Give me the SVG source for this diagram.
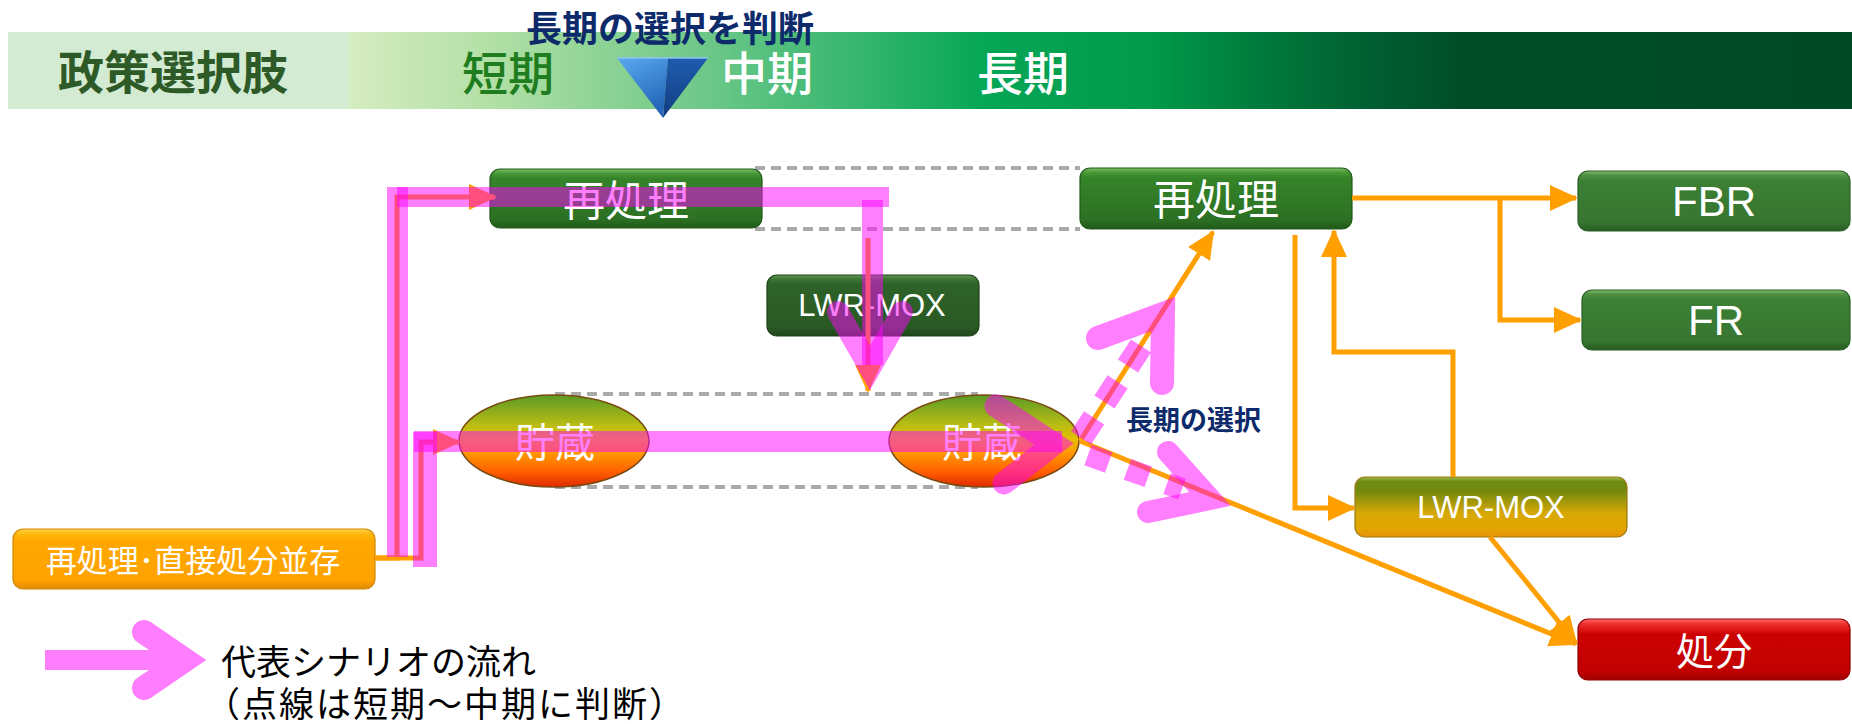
<svg xmlns="http://www.w3.org/2000/svg" width="1852" height="724" viewBox="0 0 1852 724">
<defs>
  <linearGradient id="gBanner" gradientUnits="userSpaceOnUse" x1="8" y1="0" x2="1852" y2="0">
    <stop offset="0" stop-color="#d3ebd3"/>
    <stop offset="0.184" stop-color="#d3ebd3"/>
    <stop offset="0.186" stop-color="#d5ecc0"/>
    <stop offset="0.262" stop-color="#b2e0a6"/>
    <stop offset="0.338" stop-color="#84d092"/>
    <stop offset="0.376" stop-color="#6ec889"/>
    <stop offset="0.452" stop-color="#3cb872"/>
    <stop offset="0.528" stop-color="#07a757"/>
    <stop offset="0.62" stop-color="#009a4a"/>
    <stop offset="0.68" stop-color="#007a3c"/>
    <stop offset="0.74" stop-color="#005e31"/>
    <stop offset="0.79" stop-color="#004d27"/>
    <stop offset="1" stop-color="#004b26"/>
  </linearGradient>
  <linearGradient id="gGreen" x1="0" y1="0" x2="0" y2="1">
    <stop offset="0" stop-color="#7cc067"/>
    <stop offset="0.07" stop-color="#4a9a3a"/>
    <stop offset="0.16" stop-color="#358429"/>
    <stop offset="0.85" stop-color="#2c7023"/>
    <stop offset="1" stop-color="#1f5a18"/>
  </linearGradient>
  <linearGradient id="gGreen2" x1="0" y1="0" x2="0" y2="1">
    <stop offset="0" stop-color="#82bd72"/>
    <stop offset="0.07" stop-color="#4f9044"/>
    <stop offset="0.16" stop-color="#3c8034"/>
    <stop offset="0.85" stop-color="#377631"/>
    <stop offset="1" stop-color="#265c22"/>
  </linearGradient>
  <linearGradient id="gDark" x1="0" y1="0" x2="0" y2="1">
    <stop offset="0" stop-color="#5f9a52"/>
    <stop offset="0.07" stop-color="#3d7534"/>
    <stop offset="0.16" stop-color="#2e6228"/>
    <stop offset="0.85" stop-color="#2a5a24"/>
    <stop offset="1" stop-color="#1e461a"/>
  </linearGradient>
  <linearGradient id="gOlive" x1="0" y1="0" x2="0" y2="1">
    <stop offset="0" stop-color="#9abb4a"/>
    <stop offset="0.08" stop-color="#6e8912"/>
    <stop offset="0.25" stop-color="#758a0c"/>
    <stop offset="0.6" stop-color="#d6a806"/>
    <stop offset="0.85" stop-color="#e2a600"/>
    <stop offset="1" stop-color="#e8920a"/>
  </linearGradient>
  <linearGradient id="gRed" x1="0" y1="0" x2="0" y2="1">
    <stop offset="0" stop-color="#ff6a6a"/>
    <stop offset="0.08" stop-color="#f03030"/>
    <stop offset="0.25" stop-color="#cc0202"/>
    <stop offset="0.85" stop-color="#c20000"/>
    <stop offset="1" stop-color="#a00000"/>
  </linearGradient>
  <linearGradient id="gOrange" x1="0" y1="0" x2="0" y2="1">
    <stop offset="0" stop-color="#ffd34a"/>
    <stop offset="0.09" stop-color="#ffb60a"/>
    <stop offset="0.2" stop-color="#ffa800"/>
    <stop offset="0.85" stop-color="#ffa200"/>
    <stop offset="1" stop-color="#e08a00"/>
  </linearGradient>
  <linearGradient id="gEll" x1="0" y1="0" x2="0" y2="1">
    <stop offset="0" stop-color="#5a9a26"/>
    <stop offset="0.32" stop-color="#b8bc14"/>
    <stop offset="0.48" stop-color="#e4c000"/>
    <stop offset="0.62" stop-color="#ff9c00"/>
    <stop offset="0.85" stop-color="#ff5a00"/>
    <stop offset="1" stop-color="#e02a00"/>
  </linearGradient>
  <linearGradient id="gTriL" x1="0" y1="0" x2="0.4" y2="1">
    <stop offset="0" stop-color="#5aaaf0"/>
    <stop offset="1" stop-color="#2466b8"/>
  </linearGradient>
  <linearGradient id="gTriR" x1="0" y1="0" x2="0" y2="1">
    <stop offset="0" stop-color="#1e5cae"/>
    <stop offset="1" stop-color="#123c80"/>
  </linearGradient>
  <marker id="ah" markerUnits="userSpaceOnUse" viewBox="0 0 30 28" markerWidth="30" markerHeight="28" refX="26" refY="13" orient="auto">
    <path d="M0,0 L28,13 L0,26 z" fill="#ff9f00"/>
  </marker>
</defs>
<style>
  .jp{font-family:"Noto Sans CJK JP","Noto Sans",sans-serif}
  .lat{font-family:"Liberation Sans",Arial,sans-serif}
  .w{fill:#ffffff}
  .b{font-weight:bold}
  .m{font-weight:500}
  .dash{fill:none;stroke:#aaaaaa;stroke-width:4;stroke-dasharray:10 6}
  .or{fill:none;stroke:#ff9f00;stroke-width:5;marker-end:url(#ah)}
  .pk{fill:#ff00ff;fill-opacity:0.5}
  .pks{fill:none;stroke:#ff00ff;stroke-opacity:0.5;stroke-linecap:round;stroke-linejoin:miter}
  .pkd{fill:none;stroke:#ff00ff;stroke-opacity:0.5;stroke-linecap:butt}
  .box{stroke-width:1.2}
</style>

<g id="banner">
  <rect x="8" y="32" width="1844" height="77" fill="url(#gBanner)"/>
  <text class="jp b" x="58" y="89" font-size="46" fill="#2d5a27">政策選択肢</text>
  <text class="jp m" x="462" y="90" font-size="46" fill="#1e7d1e">短期</text>
  <text class="jp m" x="721" y="90" font-size="46" fill="#ffffff">中期</text>
  <text class="jp m" x="977" y="90" font-size="46" fill="#ffffff">長期</text>
  <polygon points="617,58 668,58 663,118" fill="url(#gTriL)"/>
  <polygon points="668,58 708,58 663,118" fill="url(#gTriR)"/>
  <line x1="617" y1="58" x2="708" y2="58" stroke="#8cc4f4" stroke-width="1.5"/>
  <text class="jp b" x="670" y="42" font-size="36" fill="#0d2a6b" text-anchor="middle">長期の選択を判断</text>
</g>

<g id="guides">
  <line class="dash" x1="755" y1="168" x2="1080" y2="168"/>
  <line class="dash" x1="755" y1="229" x2="1080" y2="229"/>
  <line class="dash" x1="555" y1="394" x2="978" y2="394"/>
  <line class="dash" x1="555" y1="487" x2="978" y2="487"/>
</g>

<g id="node-reprocess-1">
  <rect class="box" x="490" y="169" width="272" height="59" rx="10" fill="url(#gGreen)" stroke="#22581a"/>
  <text class="jp w" x="626" y="216" font-size="42" text-anchor="middle">再処理</text>
</g>
<g id="node-lwrmox-1">
  <rect class="box" x="767" y="275" width="212" height="61" rx="10" fill="url(#gDark)" stroke="#1c4218"/>
  <text class="lat w" x="872" y="316" font-size="31" text-anchor="middle">LWR-MOX</text>
</g>
<g id="node-storage-1">
  <ellipse cx="554" cy="441" rx="95" ry="46" fill="url(#gEll)" stroke="#7a4a10" stroke-width="1.5"/>
  <text class="jp w" x="555" y="457" font-size="40" text-anchor="middle">貯蔵</text>
</g>
<g id="node-storage-2">
  <ellipse cx="984" cy="441" rx="95" ry="46" fill="url(#gEll)" stroke="#7a4a10" stroke-width="1.5"/>
  <text class="jp w" x="982" y="457" font-size="40" text-anchor="middle">貯蔵</text>
</g>
<g id="node-reprocess-2">
  <rect class="box" x="1080" y="168" width="272" height="61" rx="10" fill="url(#gGreen)" stroke="#22581a"/>
  <text class="jp w" x="1216" y="215" font-size="42" text-anchor="middle">再処理</text>
</g>
<g id="node-fbr">
  <rect class="box" x="1578" y="171" width="272" height="60" rx="10" fill="url(#gGreen2)" stroke="#2a5e24"/>
  <text class="lat w" x="1714" y="216" font-size="42" text-anchor="middle">FBR</text>
</g>
<g id="node-fr">
  <rect class="box" x="1582" y="290" width="268" height="60" rx="10" fill="url(#gGreen2)" stroke="#2a5e24"/>
  <text class="lat w" x="1716" y="335" font-size="42" text-anchor="middle">FR</text>
</g>
<g id="node-lwrmox-2">
  <rect class="box" x="1355" y="477" width="272" height="60" rx="10" fill="url(#gOlive)" stroke="#9a7a10"/>
  <text class="lat w" x="1491" y="518" font-size="31" text-anchor="middle">LWR-MOX</text>
</g>
<g id="node-disposal">
  <rect class="box" x="1578" y="619" width="272" height="61" rx="10" fill="url(#gRed)" stroke="#900000"/>
  <text class="jp w" x="1714" y="665" font-size="38" text-anchor="middle">処分</text>
</g>
<g id="node-coexist">
  <rect class="box" x="13" y="529" width="362" height="60" rx="10" fill="url(#gOrange)" stroke="#d08800"/>
  <text class="jp w" x="193" y="572" font-size="31" text-anchor="middle">再処理･直接処分並存</text>
</g>

<g id="connectors">
  <path class="or" d="M375,558 H397 V197 H495"/>
  <path class="or" d="M375,558 H421 V442 H459"/>
  <path class="or" d="M868,238 V391"/>
  <path class="or" d="M1080,441 L1213,232"/>
  <path class="or" d="M1080,441 L1576,644"/>
  <path class="or" d="M1490,537 L1576,643"/>
  <path class="or" d="M1352,198 H1576"/>
  <path class="or" d="M1500,198 V320 H1580"/>
  <path class="or" d="M1295,235 V508 H1354"/>
  <path class="or" d="M1453,477 V352 H1334 V231"/>
</g>

<g id="scenario-flow">
  <rect class="pk" x="387" y="187" width="21" height="370"/>
  <rect class="pk" x="397" y="187" width="492" height="20"/>
  <rect class="pk" x="862" y="200" width="21" height="165"/>
  <polyline class="pks" stroke-width="22" points="838,312 870,368 902,312"/>
  <rect class="pk" x="413" y="432" width="24" height="135"/>
  <rect class="pk" x="414" y="431" width="648" height="21"/>
  <polyline class="pks" stroke-width="23" points="996,406 1054,444 1004,483"/>
  <line class="pkd" stroke-width="24" stroke-dasharray="24 19" x1="1081" y1="438" x2="1141" y2="346"/>
  <polyline class="pks" stroke-width="24" points="1098,338 1163,314 1162,383"/>
  <line class="pkd" stroke-width="22" stroke-dasharray="22 20" x1="1088" y1="455" x2="1182" y2="489"/>
  <polyline class="pks" stroke-width="22" points="1168,452 1210,499 1148,512"/>
</g>

<g id="label-choice">
  <text class="jp b" x="1126" y="430" font-size="27" fill="#0d2a6b">長期の選択</text>
</g>

<g id="legend">
  <g opacity="0.5">
    <rect x="45" y="650" width="140" height="20" fill="#ff00ff"/>
    <polyline points="144,632 185,660 144,688" fill="none" stroke="#ff00ff" stroke-width="24" stroke-linecap="round" stroke-linejoin="miter"/>
  </g>
  <text class="jp" x="221" y="675" font-size="35" fill="#000000">代表シナリオの流れ</text>
  <text class="jp" x="205" y="717" font-size="35" letter-spacing="2" fill="#000000">（点線は短期～中期に判断）</text>
</g>
</svg>
